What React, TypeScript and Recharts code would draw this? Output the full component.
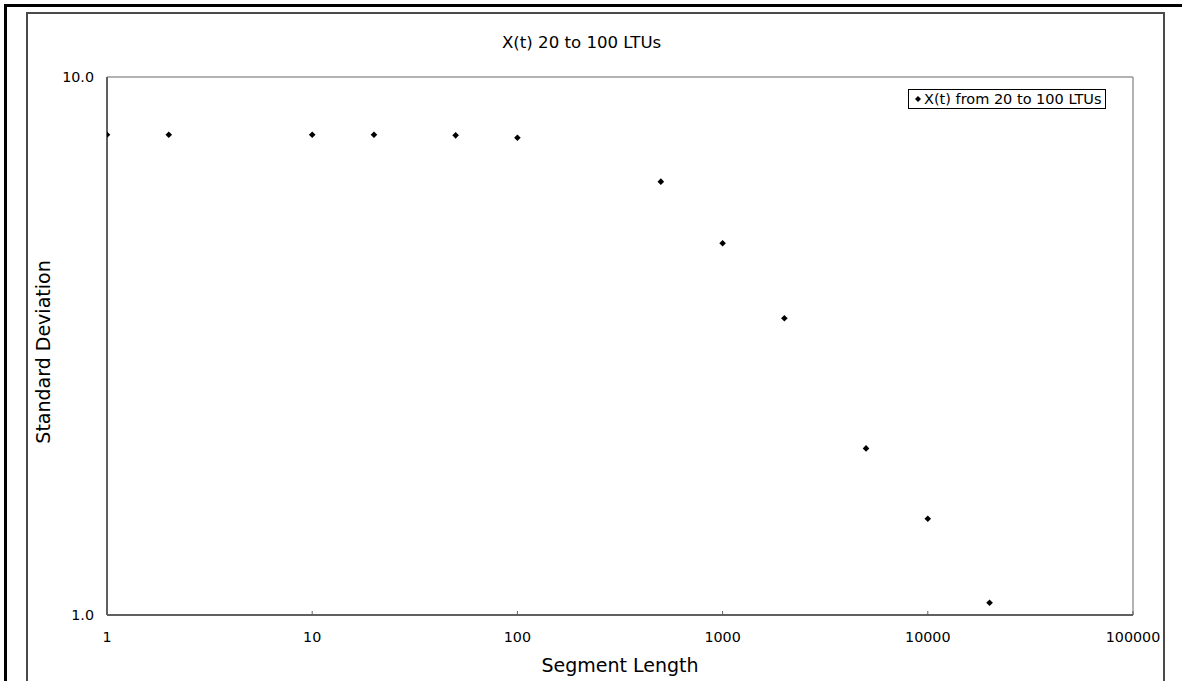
import React from "react";
import { ScatterChart, Scatter, XAxis, YAxis, ReferenceLine } from "recharts";

// segment lengths and their standard deviations
const segmentLengths = [1, 2, 10, 20, 50, 100, 500, 1000, 2000, 5000, 10000, 20000];
const stdDevs = [7.81, 7.81, 7.81, 7.81, 7.79, 7.71, 6.39, 4.91, 3.56, 2.04, 1.51, 1.054];
const xTicks = [1, 10, 100, 1000, 10000, 100000];
const yTicks = [1, 10];

const FONT = '"DejaVu Sans", Verdana, sans-serif';

const data = segmentLengths.map((x, i) => ({ x, y: stdDevs[i] }));

const Diamond = (props: any) => {
  const { cx, cy } = props;
  if (cx == null || cy == null) return null;
  const r = 3.3;
  return (
    <polygon
      points={`${cx},${cy - r} ${cx + r},${cy} ${cx},${cy + r} ${cx - r},${cy}`}
      fill="#000"
    />
  );
};

// x ticks point up into the plot, label below
const XTick = (props: any) => {
  const { x, y, payload } = props;
  return (
    <g>
      <line x1={x} x2={x} y1={y} y2={y - 4} stroke="#606060" strokeWidth={1} />
      <text x={x} y={y + 27} textAnchor="middle" fontSize={14.3} fill="#000" fontFamily={FONT}>
        {payload.value}
      </text>
    </g>
  );
};

const YTick = (props: any) => {
  const { x, y, payload } = props;
  return (
    <text x={x - 13} y={y + 5} textAnchor="end" fontSize={14.3} fill="#000" fontFamily={FONT}>
      {Number(payload.value).toFixed(1)}
    </text>
  );
};

export default function App() {
  return (
    <div
      style={{
        position: "absolute",
        left: 0,
        top: 0,
        width: 1182,
        height: 681,
        overflow: "hidden",
        background: "#fff",
        fontFamily: FONT,
      }}
    >
      {/* outer page frame */}
      <div style={{ position: "absolute", left: 4, top: 4, width: 1200, height: 3, background: "#000" }} />
      <div style={{ position: "absolute", left: 4, top: 4, width: 3, height: 700, background: "#000" }} />
      {/* chart area frame */}
      <div
        style={{
          position: "absolute",
          left: 26,
          top: 12,
          width: 1135,
          height: 720,
          border: "2px solid #4a4a4a",
        }}
      />

      <div
        style={{ position: "absolute", left: 502, top: 33, fontSize: 16.6, color: "#000", whiteSpace: "nowrap" }}
      >
        X(t) 20 to 100 LTUs
      </div>

      <div
        style={{
          position: "absolute",
          left: 620,
          top: 665,
          transform: "translate(-50%, -50%)",
          fontSize: 19,
          whiteSpace: "nowrap",
        }}
      >
        Segment Length
      </div>
      <div
        style={{
          position: "absolute",
          left: 43,
          top: 352,
          transform: "translate(-50%, -50%) rotate(-90deg)",
          fontSize: 19,
          whiteSpace: "nowrap",
        }}
      >
        Standard Deviation
      </div>

      <div style={{ position: "absolute", left: 0, top: 0 }}>
        <ScatterChart width={1182} height={681} margin={{ top: 77, right: 49, bottom: 36, left: 47 }}>
          <XAxis
            type="number"
            dataKey="x"
            scale="log"
            domain={[1, 100000]}
            ticks={xTicks}
            allowDataOverflow
            height={30}
            tickSize={0}
            tickMargin={0}
            tickLine={false}
            tick={<XTick />}
            axisLine={{ stroke: "#606060", strokeWidth: 2 }}
          />
          <YAxis
            type="number"
            dataKey="y"
            scale="log"
            domain={[1, 10]}
            ticks={yTicks}
            allowDataOverflow
            width={60}
            tickSize={0}
            tickMargin={0}
            tickLine={false}
            tick={<YTick />}
            axisLine={{ stroke: "#606060", strokeWidth: 2 }}
          />
          <ReferenceLine y={10} stroke="#9a9a9a" strokeWidth={1.5} />
          <ReferenceLine x={100000} stroke="#9a9a9a" strokeWidth={1.5} />
          <Scatter data={data} shape={<Diamond />} isAnimationActive={false} />
        </ScatterChart>
      </div>

      {/* legend */}
      <div
        style={{
          position: "absolute",
          left: 908,
          top: 89,
          width: 196,
          height: 18,
          border: "1px solid #000",
          display: "flex",
          alignItems: "center",
          fontSize: 14.5,
          whiteSpace: "nowrap",
          background: "#fff",
        }}
      >
        <svg width={15} height={18} style={{ flex: "none" }}>
          <polygon points="9,6 12,9 9,12 6,9" fill="#000" />
        </svg>
        <span>X(t) from 20 to 100 LTUs</span>
      </div>
    </div>
  );
}
